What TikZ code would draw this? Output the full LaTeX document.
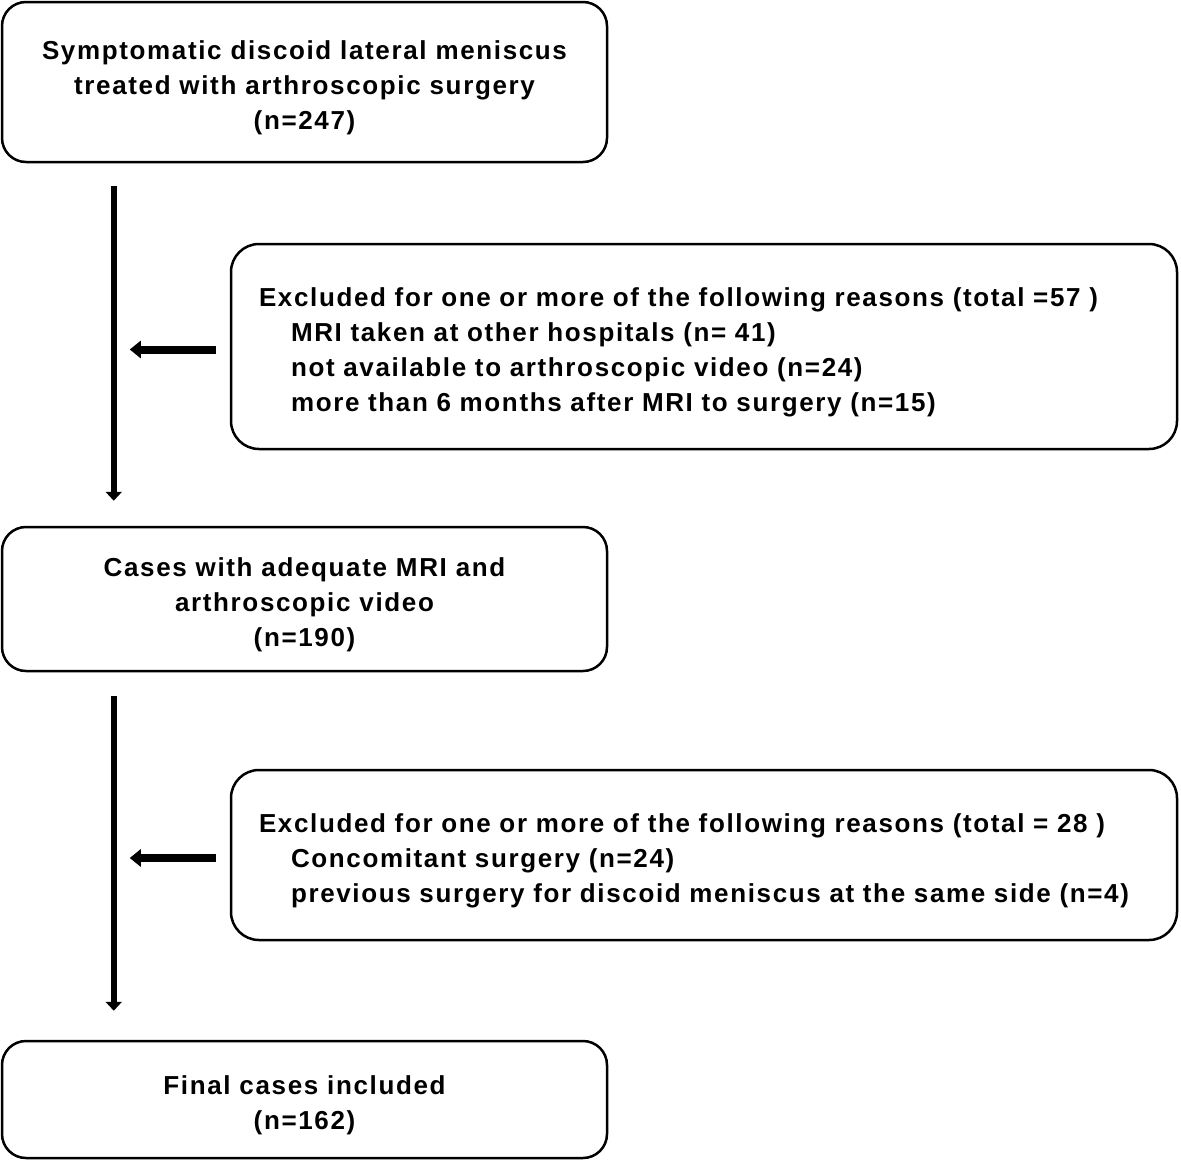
\documentclass[tikz,border=0pt]{standalone}
\usepackage{fontspec}
\setmainfont[LetterSpace=6.3]{Liberation Sans}
\usepackage{tikz}
\usetikzlibrary{arrows.meta}
\newcommand{\tstrut}{\rule{0pt}{31pt}}

\begin{document}
\begin{tikzpicture}[x=1pt, y=-1pt]
\tikzstyle{every node}=[font=\fontsize{26}{35}\selectfont\bfseries];
\tikzstyle{box}=[draw, line width=2.5pt, rounded corners=24pt, align=center, minimum width=605pt, inner sep=0pt];
\tikzstyle{exbox}=[draw, line width=2.5pt, rounded corners=28pt, align=left, minimum width=946pt, text width=890pt, inner xsep=28pt, inner ysep=0pt];
\tikzstyle{down}=[line width=6pt, -{Triangle[width=16pt,length=9pt]}];
\tikzstyle{left}=[line width=8pt, -{Triangle[width=17pt,length=11pt]}];
\useasboundingbox (0,0) rectangle (1181,1162);
\path (304.5,82) node[box, minimum height=160pt] (start) {\tstrut Symptomatic discoid lateral meniscus\\treated with arthroscopic surgery\\(n=247)};
\path (704,346.5) node[exbox, minimum height=205pt] (excl1) {\tstrut Excluded for one or more of the following reasons (total =57 )\\
\hspace*{32pt}MRI taken at other hospitals (n= 41)\\
\hspace*{32pt}not available to arthroscopic video (n=24)\\
\hspace*{32pt}more than 6 months after MRI to surgery (n=15)};
\path (304.5,599) node[box, minimum height=144pt] (mid) {\tstrut Cases with adequate MRI and\\arthroscopic video\\(n=190)};
\path (704,855) node[exbox, minimum height=170pt] (excl2) {\tstrut Excluded for one or more of the following reasons (total = 28 )\\
\hspace*{32pt}Concomitant surgery (n=24)\\
\hspace*{32pt}previous surgery for discoid meniscus at the same side (n=4)};
\path (304.5,1099.5) node[box, minimum height=117pt] (final) {\tstrut Final cases included\\(n=162)};
\draw[down] ([xshift=113pt,yshift=-23pt]start.south west) -- ([xshift=113pt,yshift=25pt]mid.north west);
\draw[down] ([xshift=113pt,yshift=-24pt]mid.south west) -- ([xshift=113pt,yshift=29pt]final.north west);
\draw[left] ([xshift=-14pt,yshift=-3pt]excl1.west) -- ([xshift=129pt,yshift=-3pt]excl1.west -| start.west);
\draw[left] ([xshift=-14pt,yshift=-3pt]excl2.west) -- ([xshift=129pt,yshift=-3pt]excl2.west -| mid.west);
\end{tikzpicture}
\end{document}
